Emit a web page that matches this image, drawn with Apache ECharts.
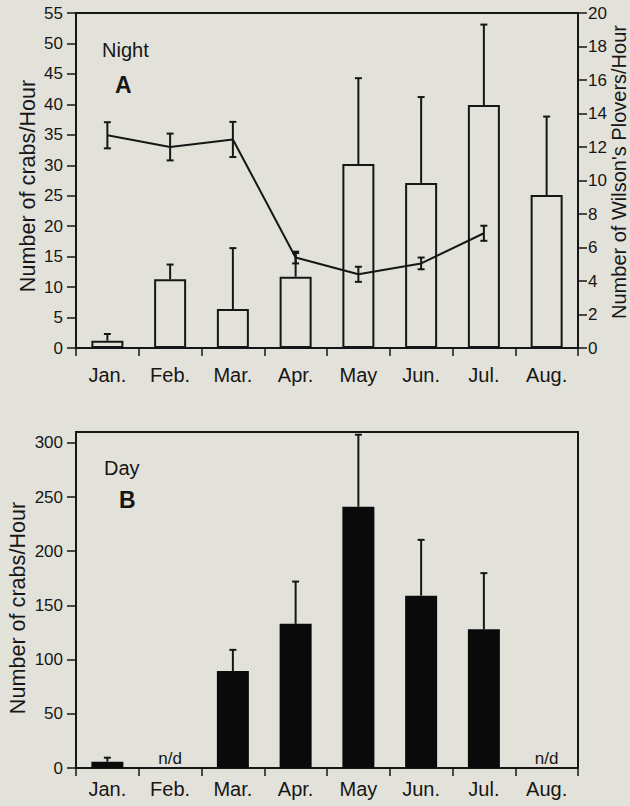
<!DOCTYPE html>
<html>
<head>
<meta charset="utf-8">
<script src="https://cdn.jsdelivr.net/npm/echarts@6/dist/echarts.min.js"></script>
<style>
html,body{margin:0;padding:0;background:#e3e2da;}
#chart{width:630px;height:806px;}
</style>
</head>
<body>
<div id="chart"></div>
<script>
// ---- data ----
const months = ['Jan.', 'Feb.', 'Mar.', 'Apr.', 'May', 'Jun.', 'Jul.', 'Aug.'];
// Panel A (Night): crabs/hour (bars, left axis) and upper error bound
const nightCrabs = [1.2, 11.3, 6.4, 11.7, 30.2, 27.1, 39.9, 25.1];
const nightCrabsUpper = [2.3, 13.7, 16.4, 15.6, 44.3, 41.2, 53.1, 38.0];
// Panel A: Wilson's Plovers/hour (line, right axis) with +/- error
const plovers = [12.7, 12.0, 12.45, 5.4, 4.4, 5.05, 6.85, null];
const ploverErr = [0.78, 0.8, 1.05, 0.35, 0.45, 0.35, 0.45, null];
// Panel B (Day): crabs/hour (bars) and upper error bound; null = n/d
const dayCrabs = [5.8, null, 89.5, 133, 241, 159, 128, null];
const dayCrabsUpper = [9.5, null, 109, 172, 307.5, 210.5, 179.8, null];
const leftTicksA = [0, 55, 5];
const rightTicksA = [0, 20, 2];
const ticksB = [0, 50, 100, 150, 200, 250, 300];
const crabAxisTitle = 'Number of crabs/Hour';
const ploverAxisTitle = "Number of Wilson's Plovers/Hour";

// ---- style ----
const FONT = "'Liberation Sans', Arial, Helvetica, sans-serif";
const INK = '#161616';

function errBars(lows, highs, bothCaps) {
  const out = [];
  lows.forEach((v, i) => {
    if (v == null || highs[i] == null) return;
    out.push([i, v, highs[i], bothCaps ? 1 : 0]);
  });
  return out;
}
function renderErr(params, api) {
  const i = api.value(0);
  const lo = api.coord([i, api.value(1)]);
  const hi = api.coord([i, api.value(2)]);
  const both = api.value(3);
  const w = 3.5;
  const st = { stroke: INK, lineWidth: 2 };
  const ch = [
    { type: 'line', shape: { x1: hi[0], y1: lo[1], x2: hi[0], y2: hi[1] }, style: st },
    { type: 'line', shape: { x1: hi[0] - w, y1: hi[1], x2: hi[0] + w, y2: hi[1] }, style: st }
  ];
  if (both) ch.push({ type: 'line', shape: { x1: lo[0] - w, y1: lo[1], x2: lo[0] + w, y2: lo[1] }, style: st });
  return { type: 'group', children: ch };
}

const ploverLow = plovers.map((v, i) => v == null ? null : +(v - ploverErr[i]).toFixed(3));
const ploverHigh = plovers.map((v, i) => v == null ? null : +(v + ploverErr[i]).toFixed(3));
const ndData = [];
dayCrabs.forEach((v, i) => { if (v == null) ndData.push([i, 0]); });

const chart = echarts.init(document.getElementById('chart'), null, { renderer: 'svg' });

const xAxisBase = {
  type: 'category',
  data: months,
  boundaryGap: true,
  axisLine: { lineStyle: { color: INK, width: 2 } },
  axisTick: { show: true, length: 8, lineStyle: { color: INK, width: 1.5 } },
  axisLabel: { color: INK, fontSize: 20, fontFamily: FONT },
  splitLine: { show: false }
};
const yAxisBase = {
  type: 'value',
  axisLine: { show: true, lineStyle: { color: INK, width: 2 } },
  axisTick: { show: true, length: 9, lineStyle: { color: INK, width: 1.5 } },
  axisLabel: { color: INK, fontSize: 17, fontFamily: FONT },
  splitLine: { show: false }
};
function axisTitle(text, x, y, size) {
  return {
    type: 'text', x: x, y: y, rotation: Math.PI / 2,
    style: { text: text, fill: INK, fontSize: size, fontFamily: FONT, align: 'center', verticalAlign: 'middle' }
  };
}

const option = {
  backgroundColor: '#e3e2da',
  animation: false,
  textStyle: { fontFamily: FONT },
  title: [
    { text: 'Night', left: 97, top: 35, textStyle: { fontSize: 20, fontWeight: 'normal', color: INK, fontFamily: FONT } },
    { text: 'A', left: 110, top: 68, textStyle: { fontSize: 23, fontWeight: 'bold', color: INK, fontFamily: FONT } },
    { text: 'Day', left: 99, top: 453, textStyle: { fontSize: 20, fontWeight: 'normal', color: INK, fontFamily: FONT } },
    { text: 'B', left: 114, top: 483, textStyle: { fontSize: 23, fontWeight: 'bold', color: INK, fontFamily: FONT } }
  ],
  graphic: [
    axisTitle(crabAxisTitle, 27, 186, 21.6),
    axisTitle(ploverAxisTitle, 619, 172, 20),
    axisTitle(crabAxisTitle, 17, 608, 21.6)
  ],
  grid: [
    { left: 76, right: 52, top: 13, height: 335, show: true, borderColor: INK, borderWidth: 2, backgroundColor: 'transparent' },
    { left: 76, right: 52, top: 432, height: 336, show: true, borderColor: INK, borderWidth: 2, backgroundColor: 'transparent' }
  ],
  xAxis: [
    Object.assign({}, xAxisBase, { gridIndex: 0, axisLabel: Object.assign({}, xAxisBase.axisLabel, { margin: 17 }) }),
    Object.assign({}, xAxisBase, { gridIndex: 1, axisLabel: Object.assign({}, xAxisBase.axisLabel, { margin: 11 }) })
  ],
  yAxis: [
    Object.assign({}, yAxisBase, {
      gridIndex: 0, position: 'left', min: leftTicksA[0], max: leftTicksA[1], interval: leftTicksA[2],
      axisLabel: Object.assign({}, yAxisBase.axisLabel, { margin: 13 })
    }),
    Object.assign({}, yAxisBase, {
      gridIndex: 0, position: 'right', min: rightTicksA[0], max: rightTicksA[1], interval: rightTicksA[2],
      axisLabel: Object.assign({}, yAxisBase.axisLabel, { margin: 10 })
    }),
    Object.assign({}, yAxisBase, {
      gridIndex: 1, position: 'left', min: 0, max: 310, interval: 50,
      axisTick: Object.assign({}, yAxisBase.axisTick, { customValues: ticksB }),
      axisLabel: Object.assign({}, yAxisBase.axisLabel, { margin: 13, customValues: ticksB })
    })
  ],
  series: [
    {
      type: 'bar', name: 'Night crabs', xAxisIndex: 0, yAxisIndex: 0,
      data: nightCrabs, barWidth: 32,
      itemStyle: { color: 'rgba(0,0,0,0)', borderColor: INK, borderWidth: 2 },
      z: 2
    },
    {
      type: 'custom', name: 'Night crabs err', xAxisIndex: 0, yAxisIndex: 0,
      data: errBars(nightCrabs, nightCrabsUpper, false),
      encode: { x: 0, y: [1, 2] }, renderItem: renderErr, z: 3
    },
    {
      type: 'line', name: "Wilson's Plovers", xAxisIndex: 0, yAxisIndex: 1,
      data: plovers, symbol: 'none', lineStyle: { color: INK, width: 2 }, z: 4
    },
    {
      type: 'custom', name: 'Plover err', xAxisIndex: 0, yAxisIndex: 1,
      data: errBars(ploverLow, ploverHigh, true),
      encode: { x: 0, y: [1, 2] }, renderItem: renderErr, z: 5
    },
    {
      type: 'bar', name: 'Day crabs', xAxisIndex: 1, yAxisIndex: 2,
      data: dayCrabs, barWidth: 32,
      itemStyle: { color: '#0a0a0a' }, z: 2
    },
    {
      type: 'custom', name: 'Day crabs err', xAxisIndex: 1, yAxisIndex: 2,
      data: errBars(dayCrabs, dayCrabsUpper, false),
      encode: { x: 0, y: [1, 2] }, renderItem: renderErr, z: 3
    },
    {
      type: 'custom', name: 'n/d', xAxisIndex: 1, yAxisIndex: 2,
      data: ndData, encode: { x: 0, y: 1 },
      renderItem: function (params, api) {
        const p = api.coord([api.value(0), api.value(1)]);
        return {
          type: 'text',
          style: { text: 'n/d', x: p[0], y: p[1] - 1, align: 'center', verticalAlign: 'bottom',
                   fill: INK, fontSize: 17, fontFamily: FONT }
        };
      },
      z: 6
    }
  ]
};
chart.setOption(option);
</script>
</body>
</html>
